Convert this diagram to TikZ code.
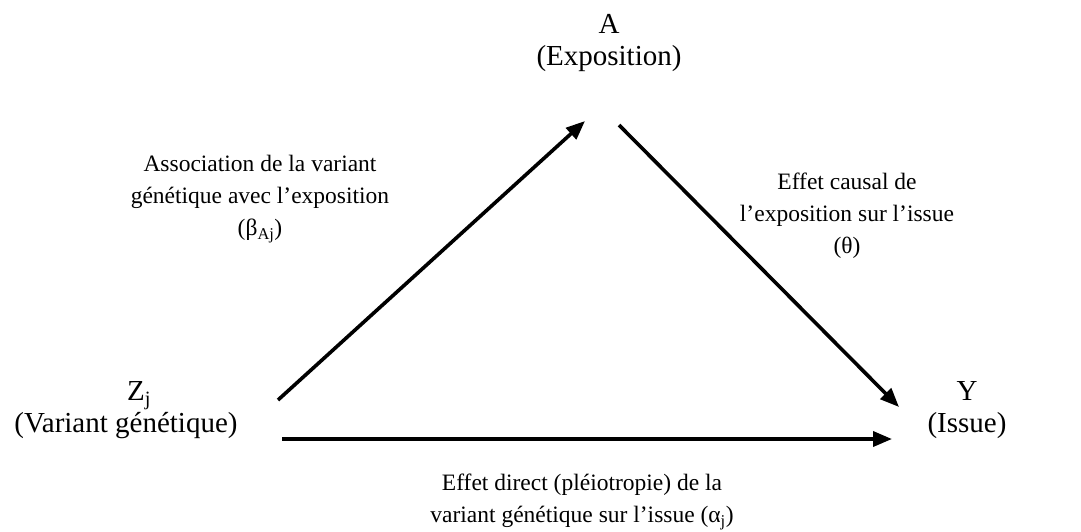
\documentclass[tikz,border=0pt]{standalone}
\usepackage{fontspec}
\setmainfont{Liberation Serif}
\usetikzlibrary{arrows.meta}
\begin{document}
\begin{tikzpicture}[x=1pt,y=-1pt,
  var/.style={align=center,inner sep=0pt,font=\fontsize{29}{32}\selectfont},
  lbl/.style={align=center,inner sep=0pt,font=\fontsize{23.5}{32}\selectfont},
  link/.style={line width=3.6pt,-{Triangle[length=19pt,width=15pt]}}]
\useasboundingbox (0,0) rectangle (1081,531);
% variables
\node[var] (A) at (609,43) {A\\(Exposition)};
\node[var] (Z) at (126,410) {\hspace*{26pt}Z\textsubscript{j}\\(Variant génétique)};
\node[var] (Y) at (967,410) {Y\\(Issue)};
% effect labels
\node[lbl] (lza) at (260,199) {Association de la variant\\génétique avec l’exposition\\(β\textsubscript{Aj})};
\node[lbl] (lay) at (847,216) {Effet causal de\\l’exposition sur l’issue\\(θ)};
\node[lbl] (lzy) at (582,502) {Effet direct (pléiotropie) de la\\variant génétique sur l’issue (α\textsubscript{j})};
% arrow end points
\coordinate (zaS) at (278,400);
\coordinate (zaE) at (585,121);
\coordinate (ayS) at (619,125);
\coordinate (ayE) at (899,407);
\coordinate (zyS) at (282,439);
\coordinate (zyE) at (892,439);
\draw[link] (zaS) -- (zaE);
\draw[link] (ayS) -- (ayE);
\draw[link] (zyS) -- (zyE);
\end{tikzpicture}
\end{document}
